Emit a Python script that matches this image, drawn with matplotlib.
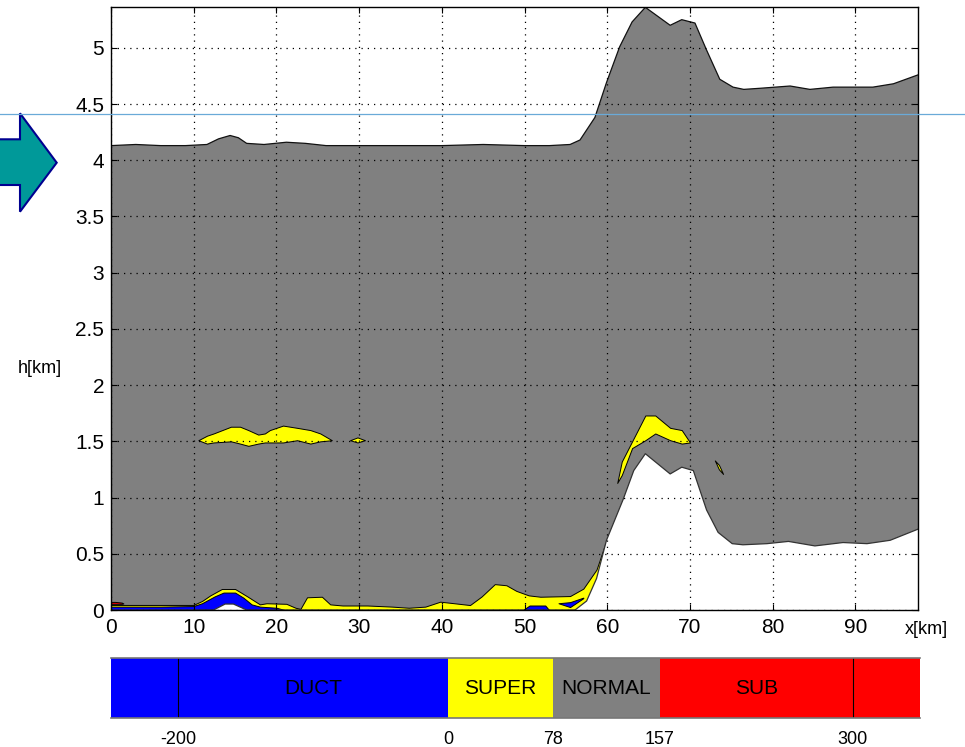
import matplotlib
matplotlib.use("Agg")
import matplotlib.pyplot as plt
from matplotlib.patches import Polygon
from matplotlib.lines import Line2D
from matplotlib.ticker import FuncFormatter, MultipleLocator

# ---- refractivity section data (x in km, h in km) ----
# upper limit of the computed field
x_top = [0, 3, 6, 9, 11.6, 13.0, 14.4, 15.4, 16.4, 18.5, 21.2, 23.5, 26, 30, 35, 40,
         45, 50, 53, 55.5, 56.7, 58.5, 59.9, 61.5, 63.0, 64.6, 67.6, 69.0, 70.6, 72.0,
         73.6, 75.2, 76.5, 78.5, 82.1, 84.5, 87.3, 90.2, 92.1, 94.6, 97.6]
h_top = [4.13, 4.14, 4.13, 4.13, 4.14, 4.19, 4.22, 4.20, 4.15, 4.14, 4.16, 4.15, 4.13,
         4.13, 4.13, 4.13, 4.14, 4.13, 4.13, 4.14, 4.18, 4.38, 4.69, 5.01, 5.23, 5.36,
         5.20, 5.25, 5.22, 4.98, 4.72, 4.65, 4.63, 4.64, 4.66, 4.63, 4.65, 4.65, 4.65,
         4.68, 4.76]

# terrain profile
x_ter = [0, 12.4, 13.8, 14.8, 16.4, 56.1, 57.5, 58.7, 59.9, 61.9, 63.2, 64.6, 67.6,
         69.0, 70.4, 72.0, 73.4, 75.1, 76.4, 79.3, 81.9, 85.1, 88.5, 91.4, 94.2, 97.6]
h_ter = [0, 0, 0.053, 0.053, 0, 0, 0.08, 0.28, 0.62, 0.98, 1.24, 1.39, 1.21, 1.27,
         1.24, 0.89, 0.69, 0.59, 0.58, 0.59, 0.61, 0.57, 0.60, 0.59, 0.62, 0.72]

# near-surface superrefractive layer (top)
x_sfc = [0, 3, 6, 9.95, 11.0, 12.0, 13.4, 15.0, 16.5, 18.0, 18.8, 21.2, 22.3, 22.9,
         23.7, 25.5, 26.5, 28, 31, 34, 36, 38, 39.8, 41.5, 43.4, 44.8, 46.4, 47.8,
         49.0, 50.5, 51.9, 55.5, 57.1, 58.7, 59.9]
h_sfc_super = [0.045, 0.045, 0.045, 0.045, 0.08, 0.13, 0.187, 0.187, 0.12, 0.05, 0.06,
               0.055, 0.02, 0.01, 0.113, 0.118, 0.05, 0.04, 0.04, 0.03, 0.02, 0.03,
               0.074, 0.06, 0.044, 0.12, 0.23, 0.22, 0.17, 0.13, 0.118, 0.124, 0.19,
               0.36, 0.62]

# near-surface ducting layer (top)
x_sfc_duct = [0, 3, 6, 9.95, 11.0, 12.5, 13.6, 15.0, 16.0, 17.0, 18.0, 19.0, 20.0, 21.0]
h_sfc_duct = [0.03, 0.03, 0.03, 0.035, 0.06, 0.12, 0.155, 0.155, 0.11, 0.05, 0.03,
              0.025, 0.02, 0.0]

# small ducting cells near x = 50..57 km
x_duct_a = [49.9, 50.6, 52.5, 52.9]
lo_duct_a = [0.0, 0.0, 0.0, 0.0]
hi_duct_a = [0.005, 0.04, 0.04, 0.005]
x_duct_b = [54.1, 55.5, 57.1]
lo_duct_b = [0.06, 0.026, 0.105]
hi_duct_b = [0.06, 0.07, 0.11]

# subrefractive cell at the left edge
x_sub = [0, 0.5, 1.3, 1.5]
lo_sub = [0.055, 0.055, 0.055, 0.058]
hi_sub = [0.072, 0.072, 0.066, 0.058]

# elevated superrefractive layers
x_el1 = [10.56, 11.6, 12.4, 14.5, 15.6, 16.6, 17.8, 18.6, 19.2, 20.8, 22.5, 24.1, 25.3, 26.7]
hi_el1 = [1.51, 1.55, 1.57, 1.63, 1.63, 1.60, 1.56, 1.57, 1.60, 1.64, 1.62, 1.60, 1.57, 1.51]
lo_el1 = [1.51, 1.48, 1.49, 1.50, 1.48, 1.46, 1.48, 1.49, 1.49, 1.49, 1.51, 1.48, 1.50, 1.51]

x_el2 = [28.9, 29.8, 30.7]
hi_el2 = [1.51, 1.535, 1.51]
lo_el2 = [1.51, 1.49, 1.51]

x_el3 = [61.2, 61.75, 63.0, 64.6, 65.8, 67.6, 69.0, 70.0]
hi_el3 = [1.13, 1.32, 1.50, 1.73, 1.73, 1.62, 1.60, 1.49]
lo_el3 = [1.13, 1.20, 1.44, 1.51, 1.57, 1.51, 1.48, 1.49]

x_el4 = [73.0, 73.5, 74.0]
hi_el4 = [1.33, 1.29, 1.21]
lo_el4 = [1.33, 1.25, 1.21]

# refractivity classes for the legend bar
class_names = ["DUCT", "SUPER", "NORMAL", "SUB"]
class_bounds = [-250, 0, 78, 157, 350]
class_label_x = [-100, 39, 117.5, 228.5]
class_ticks = [-200, 0, 78, 157, 300]

BLUE = "#0000ff"
YELLOW = "#ffff00"
GRAY = "#808080"
RED = "#ff0000"
class_colors = [BLUE, YELLOW, GRAY, RED]

TICK_FONT = ["Liberation Sans Narrow", "Liberation Sans", "DejaVu Sans"]
TEXT_FONT = ["Liberation Sans", "DejaVu Sans"]

W, H = 965, 747
fig = plt.figure(figsize=(W / 100, H / 100), dpi=100)
fig.patch.set_facecolor("white")

ax = fig.add_axes([111 / W, 1 - 610 / H, (918.3 - 111) / W, (610 - 7.3) / H])
ax.set_xlim(0, 97.6)
ax.set_ylim(0, 5.36)
ax.set_facecolor("white")

# normal refraction fills the whole computed field
ax.fill_between(x_top, 0, h_top, facecolor=GRAY, edgecolor="none", zorder=1)
ax.plot(x_top, h_top, color="#111111", lw=0.9, zorder=1.6)

edge = dict(edgecolor="black", linewidth=0.7)
ax.fill_between(x_sfc, 0, h_sfc_super, facecolor=YELLOW, zorder=1.2, **edge)
ax.fill_between(x_sfc_duct, 0, h_sfc_duct, facecolor=BLUE, zorder=1.3, **edge)
ax.fill_between(x_duct_a, lo_duct_a, hi_duct_a, facecolor=BLUE, zorder=1.3, **edge)
ax.fill_between(x_duct_b, lo_duct_b, hi_duct_b, facecolor=BLUE, zorder=1.3, **edge)
ax.fill_between(x_sub, lo_sub, hi_sub, facecolor=RED, zorder=1.3, **edge)
for xs, lo, hi in [(x_el1, lo_el1, hi_el1), (x_el2, lo_el2, hi_el2),
                   (x_el3, lo_el3, hi_el3), (x_el4, lo_el4, hi_el4)]:
    ax.fill_between(xs, lo, hi, facecolor=YELLOW, zorder=1.2, **edge)

# terrain masks everything below the ground
ax.fill_between(x_ter, 0, h_ter, facecolor="white", edgecolor="none", zorder=1.8)
ax.plot(x_ter, h_ter, color="#333333", lw=0.9, zorder=1.9)

ax.xaxis.set_major_locator(MultipleLocator(10))
ax.yaxis.set_major_locator(MultipleLocator(0.5))
fmt = FuncFormatter(lambda v, p: f"{v:g}")
ax.xaxis.set_major_formatter(fmt)
ax.yaxis.set_major_formatter(fmt)
ax.set_axisbelow(False)
ax.grid(True, color="black", linestyle=(0, (1, 4)), linewidth=0.9)
ax.tick_params(direction="in", length=4, width=0.8, top=True, right=True,
               labelsize=15, colors="black")
ax.tick_params(axis="x", pad=6)
ax.tick_params(axis="y", pad=5)
for lab in ax.get_xticklabels() + ax.get_yticklabels():
    lab.set_family(TICK_FONT)
for s in ax.spines.values():
    s.set_color("black")
    s.set_linewidth(1.0)
    s.set_zorder(3)

fig.text(926.5 / W, 1 - 630 / H, "x[km]", ha="center", va="center",
         fontsize=13, family=TEXT_FONT)
fig.text(40 / W, 1 - 369 / H, "h[km]", ha="center", va="center",
         fontsize=13, family=TEXT_FONT)

# ---- class bar ----
cax = fig.add_axes([111 / W, 1 - 718 / H, (920 - 111) / W, 60 / H])
cax.set_xlim(class_bounds[0], class_bounds[-1])
cax.set_ylim(0, 1)
for i, name in enumerate(class_names):
    cax.axvspan(class_bounds[i], class_bounds[i + 1], color=class_colors[i], lw=0)
    cax.text(class_label_x[i], 0.5, name, ha="center", va="center",
             fontsize=15, family=TICK_FONT, color="black")
for t in (class_ticks[0], class_ticks[-1]):
    cax.axvline(t, color="black", lw=0.8)
cax.set_xticks(class_ticks)
cax.set_xticklabels([str(t) for t in class_ticks])
cax.set_yticks([])
cax.tick_params(axis="x", length=0, pad=9, labelsize=13)
for lab in cax.get_xticklabels():
    lab.set_family(TEXT_FONT)
for side in ("left", "right"):
    cax.spines[side].set_visible(False)
for side in ("top", "bottom"):
    cax.spines[side].set_color("#777777")
    cax.spines[side].set_linewidth(1.2)

# ---- pointer arrow and guide line ----
arrow_px = [(-5, 139.3), (20, 139.3), (20, 113.3), (56.7, 162.7),
            (20, 211.7), (20, 185.0), (-5, 185.0)]
arrow = Polygon([(px / W, 1 - py / H) for px, py in arrow_px], closed=True,
                transform=fig.transFigure, facecolor="#009999",
                edgecolor="#000090", linewidth=1.5, zorder=5)
fig.add_artist(arrow)
fig.add_artist(Line2D([0, 1], [1 - 114.3 / H, 1 - 114.3 / H], transform=fig.transFigure,
                      color="#6aaad8", linewidth=0.9, zorder=6))

fig.savefig("out.png", dpi=100, facecolor="white")
